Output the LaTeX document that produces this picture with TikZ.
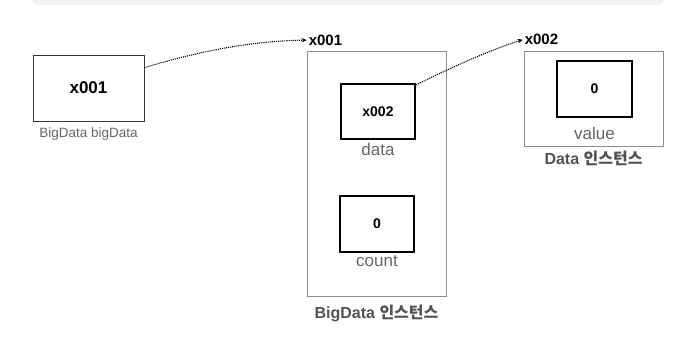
\documentclass[tikz,border=0pt]{standalone}
\usepackage{fontspec}
\setmainfont{Liberation Sans}
\newfontfamily\krfont{Noto Sans CJK KR}
\usetikzlibrary{positioning,arrows.meta}

\begin{document}
\begin{tikzpicture}[x=1pt,y=-1pt,
    cell/.style={draw=black,line width=2.2pt,minimum width=74pt,minimum height=55pt,
      inner sep=0pt,font=\fontsize{14}{16}\selectfont\bfseries},
    inst/.style={draw=black!45,line width=0.8pt,minimum width=139pt,inner sep=0pt},
    member/.style={text=black!60,inner sep=0pt,font=\fontsize{17}{19}\selectfont},
    title/.style={text=black!68,inner sep=0pt,font=\fontsize{16}{18}\selectfont\bfseries},
    addr/.style={inner sep=0pt,font=\fontsize{15}{17}\selectfont\bfseries},
    ptr/.style={densely dotted,line width=1.1pt,shorten >=2pt,-{Stealth[length=5pt,width=4.5pt]}}]
  \clip (0,0) rectangle (686,337);
  \fill[black!5,rounded corners=5pt] (32,-10) rectangle (664,5);

  \node[draw=black!80,line width=0.8pt,minimum width=111pt,minimum height=66pt,inner sep=0pt,
    font=\fontsize{17}{19}\selectfont\bfseries] (ref) at (88.5,88) {x001};
  \node[member,font=\fontsize{13.5}{15}\selectfont,below=6pt of ref] (refname) {BigData bigData};

  \node[inst,minimum height=245pt] (big) at (376.5,173.5) {};
  \node[addr,above right=5pt and 2pt of big.north west] (bigaddr) {x001};
  \node[cell] (data) at (378,111.5) {x002};
  \node[member,below=3pt of data] (datalbl) {data};
  \node[cell,minimum height=56pt] (count) at (377,224) {0};
  \node[member,below=2pt of count] (countlbl) {count};
  \node[title,below=8pt of big] (bigtitle) {BigData {\krfont\bfseries 인스턴스}};

  \node[inst,minimum height=95pt] (obj) at (593.5,98.5) {};
  \node[addr,above right=6pt and 1pt of obj.north west] (objaddr) {x002};
  \node[cell,minimum width=75pt,minimum height=56pt] (value) at (594.5,89) {0};
  \node[member,below=9pt of value] (valuelbl) {value};
  \node[title,below=4pt of obj] (objtitle) {Data {\krfont\bfseries 인스턴스}};

  \draw[ptr] ([yshift=-13pt]ref.north east) .. controls (190,54) and (245,41) .. (bigaddr.west);
  \draw[ptr] ([yshift=-2pt]data.north east) .. controls (450,68) and (490,50) .. (objaddr.west);
\end{tikzpicture}
\end{document}
